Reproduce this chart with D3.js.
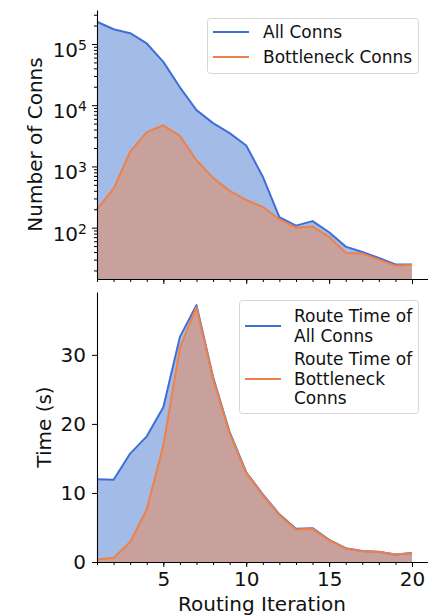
<!DOCTYPE html>
<html>
<head>
<meta charset="utf-8">
<script src="https://cdn.jsdelivr.net/npm/d3@7"></script>
<style>
  body { margin: 0; background: #fff; }
  svg { display: block; font-family: "DejaVu Sans", sans-serif; }
</style>
</head>
<body>
<div id="chart"></div>
<script>
const iterations = d3.range(1, 21);
const allConns = [231000, 174000, 150000, 102000, 51000, 19600, 8300, 5100, 3500, 2200,
                  680, 148, 108, 128, 84, 49, 40, 32, 25, 25];
const bottleneckConns = [200, 435, 1740, 3630, 4700, 3150, 1260, 650, 400, 283,
                         218, 137, 100, 104, 71, 39, 38, 30, 24, 24.5];
const timeAll = [12.0, 11.9, 15.7, 18.2, 22.4, 32.6, 37.2, 26.8, 18.8, 13.0,
                 9.8, 6.9, 4.8, 4.9, 3.2, 2.0, 1.6, 1.5, 1.1, 1.3];
const timeBottleneck = [0.35, 0.6, 2.9, 7.6, 16.9, 31.0, 36.9, 26.6, 18.6, 12.9,
                        9.7, 6.8, 4.7, 4.8, 3.15, 1.95, 1.55, 1.45, 1.07, 1.26];
const logTicks = [1e2, 1e3, 1e4, 1e5];
const timeTicks = [0, 10, 20, 30];
const iterTicks = [5, 10, 15, 20];
const legendTop = ["All Conns", "Bottleneck Conns"];
const legendBottom = [["Route Time of", "All Conns"], ["Route Time of", "Bottleneck", "Conns"]];

const width = 428, height = 616;
const blueLine = "#3f6fd6", blueFill = "#a3bce7";
const orangeLine = "#ef8148", orangeFill = "#c8a09c";
const fs = 20;      // ticks and axis titles
const legendFs = 17;

const svg = d3.select("#chart").append("svg")
    .attr("width", width).attr("height", height);

const x = d3.scaleLinear().domain([1, 21]).range([97, 428.6]);

// top panel
const yTop = d3.scaleLog().domain([14.5, 359000]).range([279, 10]);
// bottom panel
const yBot = d3.scaleLinear().domain([0, 39.1]).range([562, 292]);

function drawAreas(y, a, b) {
    const base = y.range()[0];
    const area = d3.area().x((d, i) => x(iterations[i])).y0(base).y1(d => y(d));
    const line = d3.line().x((d, i) => x(iterations[i])).y(d => y(d));
    svg.append("path").attr("d", area(a)).attr("fill", blueFill);
    svg.append("path").attr("d", area(b)).attr("fill", orangeFill);
    svg.append("path").attr("d", line(a)).attr("fill", "none")
        .attr("stroke", blueLine).attr("stroke-width", 2).attr("stroke-linejoin", "round");
    svg.append("path").attr("d", line(b)).attr("fill", "none")
        .attr("stroke", orangeLine).attr("stroke-width", 2).attr("stroke-linejoin", "round");
}

drawAreas(yTop, allConns, bottleneckConns);
drawAreas(yBot, timeAll, timeBottleneck);

function styleAxis(g) {
    g.selectAll(".domain").attr("stroke", "#000").attr("stroke-width", 1.1);
    g.selectAll(".tick line").attr("stroke", "#000").attr("stroke-width", 1);
    g.selectAll("text").attr("fill", "#111").style("font-size", fs + "px")
        .style("font-family", "'DejaVu Sans', sans-serif");
}

// x axes (minor + major) for both panels
function xAxes(yPos, labels) {
    const minor = svg.append("g").attr("transform", `translate(0,${yPos})`)
        .call(d3.axisBottom(x).tickValues(d3.range(1, 21)).tickSize(3).tickFormat("").tickSizeOuter(0));
    styleAxis(minor);
    const major = svg.append("g").attr("transform", `translate(0,${yPos})`)
        .call(d3.axisBottom(x).tickValues(iterTicks).tickSize(5).tickPadding(5)
            .tickFormat(labels ? d3.format("d") : "").tickSizeOuter(0));
    styleAxis(major);
    major.select(".domain").remove();
}
xAxes(279, false);
xAxes(562, true);

// top y axis: log with minor ticks
const minorLog = [];
for (let e = 1; e <= 5; e++) for (let m = 2; m <= 9; m++) {
    const v = m * Math.pow(10, e);
    if (v >= 14.5 && v <= 359000) minorLog.push(v);
}
const yMinor = svg.append("g").attr("transform", "translate(97,0)")
    .call(d3.axisLeft(yTop).tickValues(minorLog).tickSize(3).tickFormat("").tickSizeOuter(0));
styleAxis(yMinor);
const yMajor = svg.append("g").attr("transform", "translate(97,0)")
    .call(d3.axisLeft(yTop).tickValues(logTicks).tickSize(5).tickPadding(5).tickFormat("").tickSizeOuter(0));
styleAxis(yMajor);
yMajor.select(".domain").remove();
yMajor.selectAll(".tick text").each(function(d) {
    const t = d3.select(this);
    t.text(null);
    t.append("tspan").text("10");
    t.append("tspan").attr("dy", "-0.5em").style("font-size", "14px")
        .text(Math.round(Math.log10(d)));
}).attr("dy", "0.62em");

const yBotAxis = svg.append("g").attr("transform", "translate(97,0)")
    .call(d3.axisLeft(yBot).tickValues(timeTicks).tickSize(5).tickPadding(6).tickSizeOuter(0));
styleAxis(yBotAxis);

// axis titles
svg.append("text").attr("transform", "translate(42,144.5) rotate(-90)")
    .attr("text-anchor", "middle").attr("fill", "#111").style("font-size", fs + "px")
    .text("Number of Conns");
svg.append("text").attr("transform", "translate(51,427) rotate(-90)")
    .attr("text-anchor", "middle").attr("fill", "#111").style("font-size", fs + "px")
    .text("Time (s)");
svg.append("text").attr("x", 262).attr("y", 611)
    .attr("text-anchor", "middle").attr("fill", "#111").style("font-size", fs + "px")
    .text("Routing Iteration");

// legends
function legend(x0, y0, w, h, rows) {
    const g = svg.append("g");
    g.append("rect").attr("x", x0).attr("y", y0).attr("width", w).attr("height", h)
        .attr("rx", 3).attr("fill", "#fff").attr("fill-opacity", 0.85)
        .attr("stroke", "#d6d6d6").attr("stroke-width", 1);
    rows.forEach(r => {
        g.append("line").attr("x1", r.lx).attr("x2", r.lx + 36)
            .attr("y1", r.ly).attr("y2", r.ly)
            .attr("stroke", r.color).attr("stroke-width", 2);
        r.lines.forEach((s, i) => {
            g.append("text").attr("x", r.tx).attr("y", r.ty + i * 19.5)
                .attr("dy", "0.36em").attr("fill", "#111").style("font-size", legendFs + "px")
                .text(s);
        });
    });
}
legend(207.5, 18.5, 211, 55, [
    {lx: 213, ly: 32, tx: 263, ty: 32, color: blueLine, lines: [legendTop[0]]},
    {lx: 213, ly: 57, tx: 263, ty: 57, color: orangeLine, lines: [legendTop[1]]}
]);
legend(239.5, 300.5, 179, 113, [
    {lx: 245, ly: 326, tx: 294, ty: 316, color: blueLine, lines: legendBottom[0]},
    {lx: 245, ly: 379, tx: 294, ty: 359, color: orangeLine, lines: legendBottom[1]}
]);
</script>
</body>
</html>
